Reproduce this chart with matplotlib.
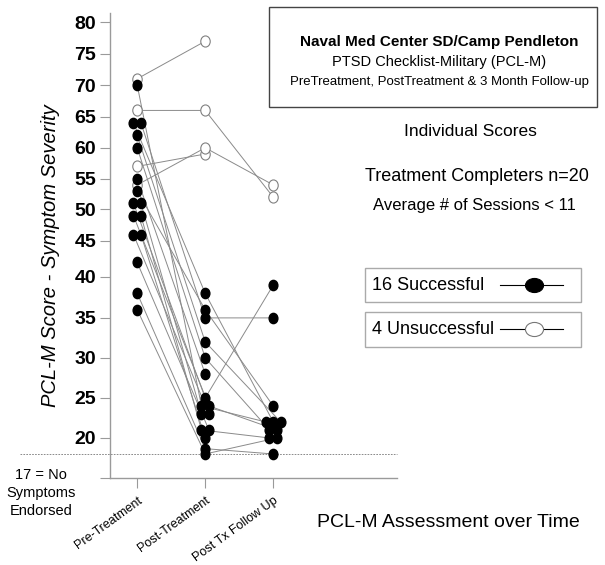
"""PCL-M individual scores: pre, post and follow-up, successful vs unsuccessful."""
import numpy as np
import matplotlib
matplotlib.use("Agg")
import matplotlib.pyplot as plt
from matplotlib.path import Path
from matplotlib.patches import Rectangle
from matplotlib.lines import Line2D

plt.rcParams["font.family"] = ["Liberation Sans", "DejaVu Sans"]

# ---- data ----
timepoints = ["Pre-Treatment", "Post-Treatment", "Post Tx Follow Up"]

pre_ok = [70, 64, 64, 62, 60, 55, 53, 51, 51, 49, 49, 46, 46, 42, 38, 36]
post_ok = [24, 38, 35, 32, 30, 28, 36, 25, 23, 24, 21, 23, 20, 21, 18, 17]
fu_ok = [22, 22, 35, 22, 21, np.nan, 24, 39, np.nan, 21, 20, np.nan, np.nan, np.nan, 17, 20]

pre_bad = [71, 66, 57, 54]
post_bad = [77, 66, 59, 60]
fu_bad = [np.nan, 52, np.nan, 54]

yticks = [20, 25, 30, 35, 40, 45, 50, 55, 60, 65, 70, 75, 80]
no_symptoms = 17

# the y axis of the original is stretched below 40: tick value -> pixel row
knot_val = np.array([5, 17, 20, 25, 30, 35, 40, 45, 50, 55, 60, 65, 70, 75, 80, 90])
knot_pix = np.array([518, 454, 438, 398, 358, 318, 277, 241, 209.5, 179, 148, 117, 85.3, 54, 22.7, -40])


def fwd(v):
    v = np.asarray(v, dtype=float)
    return -np.interp(v, knot_val, knot_pix)


def inv(p):
    p = np.asarray(p, dtype=float)
    return np.interp(-p, knot_pix[::-1], knot_val[::-1])


def dodge(cols, step=0.11):
    """side-by-side offsets for equal values within one time point"""
    allv = np.concatenate(cols)
    offs = np.zeros(len(allv))
    for v in np.unique(allv[~np.isnan(allv)]):
        idx = np.where(allv == v)[0]
        offs[idx] = (np.arange(len(idx)) - (len(idx) - 1) / 2) * step
    out, k = [], 0
    for c in cols:
        out.append(offs[k:k + len(c)])
        k += len(c)
    return out


Y_ok = np.array([pre_ok, post_ok, fu_ok], dtype=float).T
Y_bad = np.array([pre_bad, post_bad, fu_bad], dtype=float).T
X_ok = np.zeros_like(Y_ok)
X_bad = np.zeros_like(Y_bad)
for t in range(3):
    o_ok, o_bad = dodge([Y_ok[:, t], Y_bad[:, t]])
    X_ok[:, t] = t + o_ok
    X_bad[:, t] = t + o_bad

# slightly tall dots like the original
circ = Path.unit_circle()
dot = Path(circ.vertices * [0.85, 1.0], circ.codes)
wide = Path(circ.vertices * [1.0, 0.78], circ.codes)

fig = plt.figure(figsize=(6.05, 5.65), dpi=100)
ax = fig.add_axes([110 / 605, 1 - 478 / 565, 287 / 605, 465 / 565])
ax.set_yscale("function", functions=(fwd, inv))
ax.set_ylim(12.5, 81.5)
ax.set_xlim(-0.4, 3.82)

lc = "#8a8a8a"
for xs, ys in zip(X_bad, Y_bad):
    ax.plot(xs, ys, color=lc, lw=0.7, zorder=1)
for xs, ys in zip(X_ok, Y_ok):
    ax.plot(xs, ys, color=lc, lw=0.7, zorder=1)
ax.plot(X_bad.ravel(), Y_bad.ravel(), ls="none", marker=dot, ms=8,
        mfc="white", mec="#808080", mew=0.8, zorder=2)
ax.plot(X_ok.ravel(), Y_ok.ravel(), ls="none", marker=dot, ms=7.4,
        mfc="black", mec="black", zorder=3)

# "no symptoms" reference line, running out past the axis
ax.plot([-0.314, 1.0], [no_symptoms, no_symptoms], transform=ax.get_yaxis_transform(),
        color="#777777", lw=0.6, ls=(0, (2, 1.5)), clip_on=False, zorder=0)

for s in ["top", "right"]:
    ax.spines[s].set_visible(False)
for s in ["left", "bottom"]:
    ax.spines[s].set_color("#9a9a9a")
    ax.spines[s].set_linewidth(1.0)

ax.set_yticks(yticks + [12.5])
ax.set_yticklabels([str(v) for v in yticks] + [""], fontsize=14, fontweight="bold")
ax.yaxis.set_minor_locator(matplotlib.ticker.NullLocator())
ax.tick_params(axis="y", length=7, color="#9a9a9a", pad=3)
ax.set_xticks(range(3))
ax.set_xticklabels(timepoints, rotation=36, ha="right", va="top",
                   rotation_mode="anchor", fontsize=9)
ax.tick_params(axis="x", length=7, color="#9a9a9a", pad=5)

fig.text(0.083, 0.548, "PCL-M Score - Symptom Severity", rotation=90, style="italic",
         fontsize=14.5, ha="center", va="center")
fig.text(0.068, 0.128, "17 = No\nSymptoms\nEndorsed", ha="center", va="center",
         fontsize=10.5, linespacing=1.35)
fig.text(0.7405, 0.076, "PCL-M Assessment over Time", ha="center", va="center", fontsize=14)

# title box
fig.patches.append(Rectangle((0.4446, 0.8106), 0.542, 0.177, transform=fig.transFigure,
                             fill=False, ec="#444444", lw=1.0))
fig.text(0.7256, 0.926, "Naval Med Center SD/Camp Pendleton", ha="center", va="center",
         fontsize=11, fontweight="bold")
fig.text(0.7256, 0.891, "PTSD Checklist-Military (PCL-M)", ha="center", va="center", fontsize=10.5)
fig.text(0.7256, 0.855, "PreTreatment, PostTreatment & 3 Month Follow-up", ha="center",
         va="center", fontsize=9.5)

fig.text(0.777, 0.767, "Individual Scores", ha="center", va="center", fontsize=12.5)
fig.text(0.788, 0.687, "Treatment Completers n=20", ha="center", va="center", fontsize=13)
fig.text(0.785, 0.637, "Average # of Sessions < 11", ha="center", va="center", fontsize=12)

# legend boxes
for (y0, h), label, face in [((0.466, 0.0591), "16 Successful", "black"),
                             ((0.3864, 0.0609), "4 Unsuccessful", "white")]:
    fig.patches.append(Rectangle((0.603, y0), 0.358, h, transform=fig.transFigure,
                                 fill=False, ec="#aaaaaa", lw=1.0))
    yc = y0 + h / 2
    fig.text(0.6144, yc, label, ha="left", va="center", fontsize=13)
    fig.lines.append(Line2D([0.8264, 0.9306], [yc, yc], transform=fig.transFigure,
                            color="black", lw=0.8))
    fig.lines.append(Line2D([0.8826], [yc], transform=fig.transFigure, marker=wide, ms=13,
                            mfc=face, mec="black" if face == "black" else "#777777", mew=0.8))

fig.savefig("out.png", dpi=100)
